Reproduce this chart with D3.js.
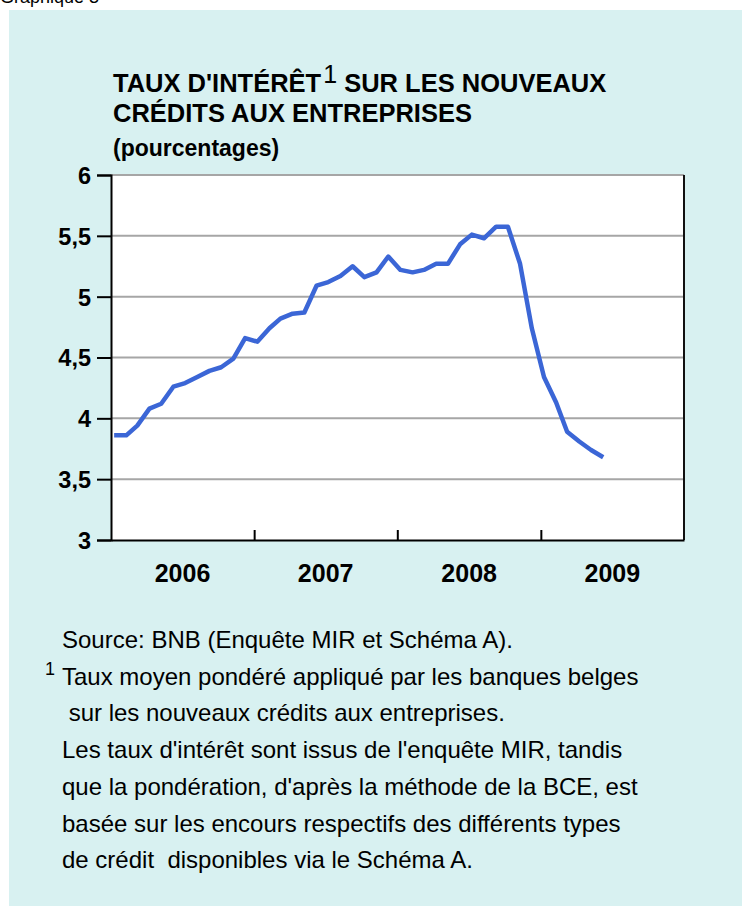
<!DOCTYPE html>
<html>
<head>
<meta charset="utf-8">
<script src="https://cdn.jsdelivr.net/npm/d3@7"></script>
<style>
  body { margin: 0; background: #fff; }
  svg { display: block; font-family: "Liberation Sans", Arial, sans-serif; }
</style>
</head>
<body>
<script>
// mois (observations mensuelles)
const months = [
  "2006-01","2006-02","2006-03","2006-04","2006-05","2006-06","2006-07","2006-08","2006-09","2006-10","2006-11","2006-12",
  "2007-01","2007-02","2007-03","2007-04","2007-05","2007-06","2007-07","2007-08","2007-09","2007-10","2007-11","2007-12",
  "2008-01","2008-02","2008-03","2008-04","2008-05","2008-06","2008-07","2008-08","2008-09","2008-10","2008-11","2008-12",
  "2009-01","2009-02","2009-03","2009-04","2009-05","2009-06"
];
// taux d'intérêt (%)
const rates = [
  3.86, 3.86, 3.94, 4.08, 4.12, 4.26, 4.29, 4.34, 4.39, 4.42, 4.49, 4.66,
  4.63, 4.74, 4.82, 4.86, 4.87, 5.09, 5.12, 5.17, 5.25, 5.16, 5.20, 5.33,
  5.22, 5.20, 5.22, 5.27, 5.27, 5.43, 5.51, 5.48, 5.575, 5.575, 5.27, 4.74,
  4.34, 4.13, 3.89, 3.81, 3.74, 3.68
];
const yearLabels = ["2006", "2007", "2008", "2009"];
const yTicks = [3, 3.5, 4, 4.5, 5, 5.5, 6];

const notes = [
  "Source: BNB (Enquête MIR et Schéma A).",
  "Taux moyen pondéré appliqué par les banques belges",
  " sur les nouveaux crédits aux entreprises.",
  "Les taux d'intérêt sont issus de l'enquête MIR, tandis",
  "que la pondération, d'après la méthode de la BCE, est",
  "basée sur les encours respectifs des différents types",
  "de crédit  disponibles via le Schéma A."
];

const width = 742;
const height = 906;
const plot = { left: 111, right: 684, top: 175, bottom: 540 };

const svg = d3.select("body").append("svg").attr("width", width).attr("height", height);

// fond
svg.append("rect").attr("x", 9).attr("y", 10).attr("width", width - 9).attr("height", height - 10)
  .attr("fill", "#d8f1f1");

// en-tête coupé en haut de page (comme dans l'original)
svg.append("text").attr("x", 0).attr("y", 3)
  .style("font-size", "18px").attr("fill", "#000")
  .text("Graphique 3");

// titre
const title = svg.append("text").attr("x", 113).attr("y", 92)
  .style("font-size", "25.5px").style("font-weight", "bold").attr("fill", "#000");
title.append("tspan").text("TAUX D'INTÉRÊT");
title.append("tspan").attr("dx", 2).attr("dy", -9).style("font-size", "25px").style("font-weight", "normal").text("1");
title.append("tspan").attr("dy", 9).text(" SUR LES NOUVEAUX");
svg.append("text").attr("x", 113).attr("y", 122)
  .style("font-size", "25.5px").style("font-weight", "bold").text("CRÉDITS AUX ENTREPRISES");
svg.append("text").attr("x", 113).attr("y", 156)
  .style("font-size", "23px").style("font-weight", "bold").text("(pourcentages)");

// échelles
const parse = d3.timeParse("%Y-%m");
const data = months.map((m, i) => ({ date: d3.timeDay.offset(parse(m), 8), value: rates[i] }));

const xScale = d3.scaleTime()
  .domain([new Date(2006, 0, 1), new Date(2010, 0, 1)])
  .range([plot.left, plot.right]);
const yScale = d3.scaleLinear()
  .domain([3, 6])
  .range([plot.bottom, plot.top]);

svg.append("rect").attr("x", plot.left).attr("y", plot.top)
  .attr("width", plot.right - plot.left).attr("height", plot.bottom - plot.top)
  .attr("fill", "#fff");

// grille
svg.append("g").selectAll("line")
  .data(yTicks.filter(d => d > 3))
  .join("line")
  .attr("x1", plot.left).attr("x2", plot.right)
  .attr("y1", d => yScale(d)).attr("y2", d => yScale(d))
  .attr("stroke", "#a6a6a6").attr("stroke-width", 2);

// bord droit
svg.append("line").attr("x1", plot.right).attr("x2", plot.right)
  .attr("y1", plot.top).attr("y2", plot.bottom)
  .attr("stroke", "#111").attr("stroke-width", 2);

// axe y
const fmt = d3.format(".1~f");
const axisy = d3.axisLeft(yScale)
  .tickValues(yTicks)
  .tickSize(14)
  .tickPadding(6)
  .tickFormat(d => fmt(d).replace(".", ","));
const gy = svg.append("g").attr("transform", "translate(" + plot.left + ",0)").call(axisy);
gy.select(".domain").attr("stroke", "#000").attr("stroke-width", 2);
gy.selectAll(".tick line").attr("stroke", "#000").attr("stroke-width", 2);
gy.selectAll(".tick text").attr("fill", "#000")
  .style("font-size", "23.5px").style("font-weight", "bold").attr("dy", "0.36em");

// axe x : traits entre les années
const axisx = d3.axisBottom(xScale)
  .tickValues([new Date(2007, 0, 1), new Date(2008, 0, 1), new Date(2009, 0, 1)])
  .tickSizeInner(-10)
  .tickSizeOuter(0)
  .tickFormat("");
const gx = svg.append("g").attr("transform", "translate(0," + plot.bottom + ")").call(axisx);
gx.select(".domain").attr("stroke", "#000").attr("stroke-width", 2);
gx.selectAll(".tick line").attr("stroke", "#000").attr("stroke-width", 2);

// libellés des années (au milieu de chaque année)
const axisLabels = d3.axisBottom(xScale)
  .tickValues(yearLabels.map(y => new Date(+y, 6, 1)))
  .tickSize(0)
  .tickPadding(24)
  .tickFormat(d3.timeFormat("%Y"));
const gl = svg.append("g").attr("transform", "translate(0," + plot.bottom + ")").call(axisLabels);
gl.select(".domain").remove();
gl.selectAll(".tick text").attr("fill", "#000")
  .style("font-size", "25px").style("font-weight", "bold");

// courbe
const line = d3.line()
  .x(d => xScale(d.date))
  .y(d => yScale(d.value));

svg.append("path")
  .datum(data)
  .attr("fill", "none")
  .attr("stroke", "#3b66d6")
  .attr("stroke-width", 4.5)
  .attr("stroke-linejoin", "round")
  .attr("d", line);

// notes
svg.append("g").selectAll("text")
  .data(notes)
  .join("text")
  .attr("x", 62)
  .attr("y", (d, i) => 648 + i * 36.7)
  .style("font-size", "24px")
  .style("white-space", "pre")
  .attr("xml:space", "preserve")
  .attr("fill", "#000")
  .text(d => d);

svg.append("text").attr("x", 45).attr("y", 675)
  .style("font-size", "18px").text("1");
</script>
</body>
</html>
